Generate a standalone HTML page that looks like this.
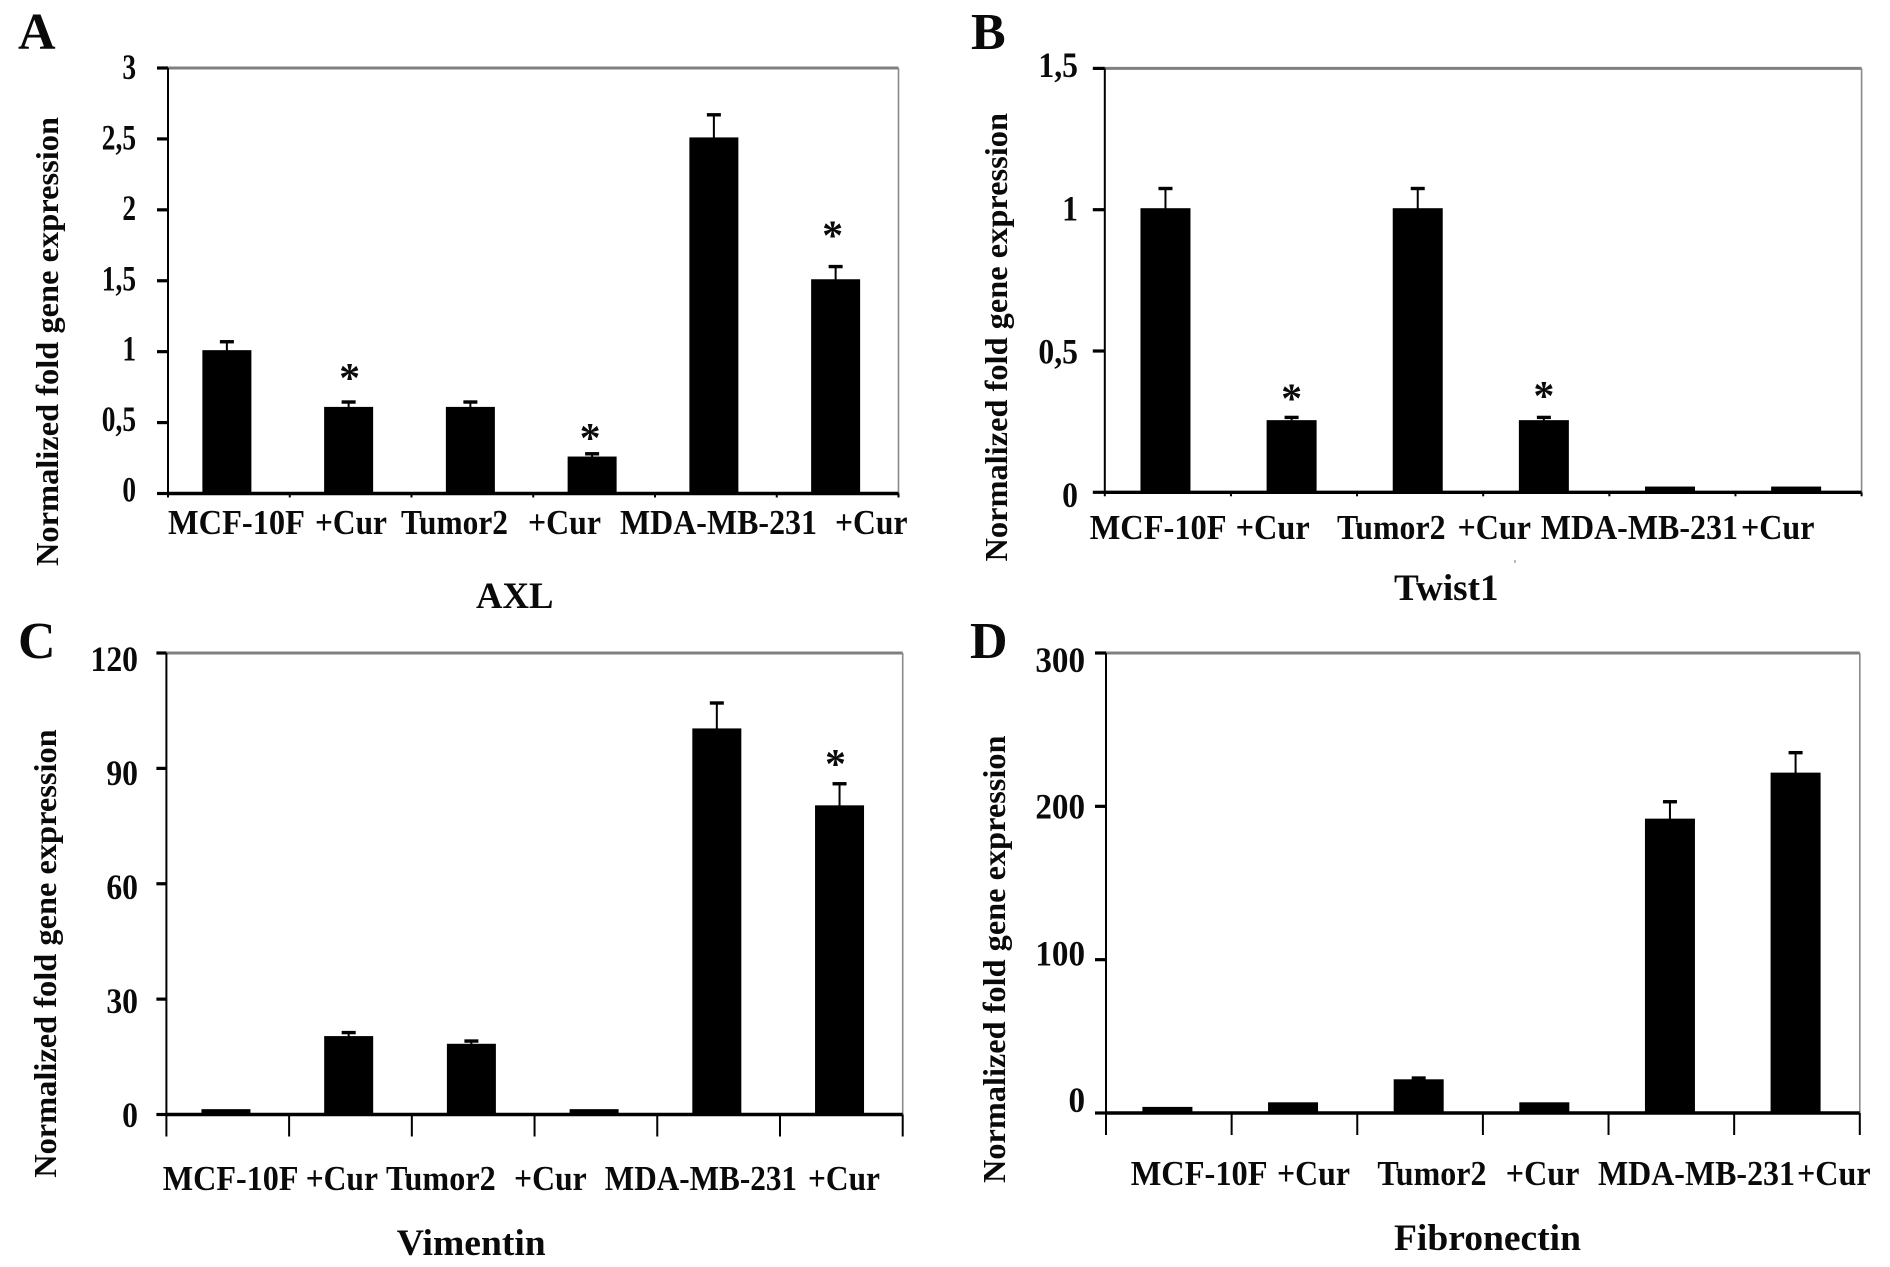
<!DOCTYPE html>
<html lang="en">
<head>
<meta charset="utf-8">
<title>Normalized fold gene expression: AXL, Twist1, Vimentin, Fibronectin</title>
<style>
html,body{margin:0;padding:0;background:#fff;width:1890px;height:1267px;overflow:hidden}
svg{display:block;filter:blur(0.35px)}
text{font-family:"Liberation Serif","Times New Roman",serif;font-weight:bold;fill:#0a0a0a}
</style>
</head>
<body>
<svg id="figure" xmlns="http://www.w3.org/2000/svg" width="1890" height="1267" viewBox="0 0 1890 1267">
  <rect x="0" y="0" width="1890" height="1267" fill="#fff"/>
  <rect x="1514" y="560" width="2" height="3" fill="#bbb"/>
</svg>
<script>
// ---- Panel A: AXL ----
const categoriesA = ["MCF-10F", "+Cur", "Tumor2", "+Cur", "MDA-MB-231", "+Cur"];
const valuesA = [1, 0.6, 0.6, 0.25, 2.5, 1.5];
const errorTopsA = [1.07, 0.645, 0.645, 0.28, 2.67, 1.6];
const significantA = [false, true, false, true, false, true];
const tickValuesA = [0, 0.5, 1, 1.5, 2, 2.5, 3];
const tickLabelsA = ["0", "0,5", "1", "1,5", "2", "2,5", "3"];

// ---- Panel B: Twist1 ----
const categoriesB = ["MCF-10F", "+Cur", "Tumor2", "+Cur", "MDA-MB-231", "+Cur"];
const valuesB = [1, 0.25, 1, 0.25, 0.015, 0.015];
const errorTopsB = [1.075, 0.265, 1.075, 0.265, null, null];
const significantB = [false, true, false, true, false, false];
const tickValuesB = [0, 0.5, 1, 1.5];
const tickLabelsB = ["0", "0,5", "1", "1,5"];

// ---- Panel C: Vimentin ----
const categoriesC = ["MCF-10F", "+Cur", "Tumor2", "+Cur", "MDA-MB-231", "+Cur"];
const valuesC = [1, 20, 18, 1, 100, 80];
const errorTopsC = [null, 21.3, 19.1, null, 107, 86];
const significantC = [false, false, false, false, false, true];
const tickValuesC = [0, 30, 60, 90, 120];
const tickLabelsC = ["0", "30", "60", "90", "120"];

// ---- Panel D: Fibronectin ----
const categoriesD = ["MCF-10F", "+Cur", "Tumor2", "+Cur", "MDA-MB-231", "+Cur"];
const valuesD = [3, 6, 21, 6, 191, 221];
const errorTopsD = [null, null, 22.8, null, 203, 235];
const significantD = [false, false, false, false, false, false];
const tickValuesD = [0, 100, 200, 300];
const tickLabelsD = ["0", "100", "200", "300"];

const NS = "http://www.w3.org/2000/svg";
const figure = document.getElementById("figure");
const BAR_OUTLINE = 1.5;

function mk(tag, attrs, parent) {
  const el = document.createElementNS(NS, tag);
  for (const k in attrs) el.setAttribute(k, attrs[k]);
  parent.appendChild(el);
  return el;
}

function drawPanel(p) {
  const g = mk("g", {}, figure);
  
  

  const n = p.categories.length;
  const band = (p.right - p.left) / n;
  const xBand = i => p.left + band * i;
  const xCenter = i => xBand(i) + band / 2 + p.barDx;
  const y = v => p.base - (v / p.yMax) * (p.base - p.top);
  const yLabel = v => p.labelBase - (v / p.yMax) * (p.labelBase - p.labelTop);

  // panel letter
  const letter = mk("text", {x: p.letterX, y: p.letterY, "font-size": 52}, g);
  
  
  letter.textContent = p.id;

  // plot frame: top and right are grey
  const topLine = mk("line", {x1: p.left, x2: p.right, y1: p.top, y2: p.top, stroke: "#808080", "stroke-width": 3}, g);
  
  
  const rightLine = mk("line", {x1: p.right, x2: p.right, y1: p.top, y2: p.base, stroke: "#8a8a8a", "stroke-width": 1.6}, g);
  
  

  // bars and error bars
  p.values.forEach((v, i) => {
    const cx = xCenter(i);
    const barTop = y(v) - BAR_OUTLINE;
    const bar = mk("rect", {x: cx - p.barW / 2, y: barTop, width: p.barW, height: p.base - barTop, fill: "#000"}, g);
    
    
    const top = p.errorTops[i];
    if (top !== null) {
      const stem = mk("line", {x1: cx, x2: cx, y1: y(v), y2: y(top), stroke: "#000", "stroke-width": 2}, g);
      
      
      const cap = mk("line", {x1: cx - 7, x2: cx + 7, y1: y(top), y2: y(top), stroke: "#000", "stroke-width": 3.4}, g);
      
      
    }
    if (p.significant[i]) {
      const anchorY = y(top !== null ? top : v);
      const star = mk("text", {x: cx + p.starDx[i], y: anchorY - p.starGap[i] + 18, "font-size": 42, "text-anchor": "middle"}, g);
      
      
      star.textContent = "*";
    }
  });

  // axes
  const yAxis = mk("line", {x1: p.left, x2: p.left, y1: p.top, y2: p.base, stroke: "#000", "stroke-width": 2}, g);
  
  
  const xAxis = mk("line", {x1: p.left, x2: p.right, y1: p.base, y2: p.base, stroke: "#000", "stroke-width": 3.4}, g);
  
  

  // y ticks
  p.tickValues.forEach((t, i) => {
    const tick = mk("line", {x1: p.left - p.yTickLen, x2: p.left, y1: y(t), y2: y(t), stroke: "#000", "stroke-width": 3.2}, g);
    
    
    const ly = yLabel(t) + 12;
    const lab = mk("text", {
      transform: "translate(" + p.labelRight + "," + ly + ") scale(" + p.labelScale + ",1)",
      "font-size": 36, "text-anchor": "end"
    }, g);
    
    
    lab.textContent = p.tickLabels[i];
  });

  // x ticks
  for (let i = 0; i <= n; i++) {
    const tick = mk("line", {x1: xBand(i), x2: xBand(i), y1: p.base, y2: p.base + p.xTickLen, stroke: "#000", "stroke-width": 2}, g);
    
    
  }

  // x category labels: hand-placed text boxes in the original figure
  p.categories.forEach((c, i) => {
    const span = p.labelSpans[i];
    const lab = mk("text", {
      x: span[0], y: p.catBaseline, "font-size": 35,
      textLength: span[1] - span[0], lengthAdjust: "spacingAndGlyphs"
    }, g);
    
    
    lab.textContent = c;
  });

  // y title
  const yt = mk("text", {
    transform: "translate(" + p.yTitleX + "," + p.yTitleBottom + ") rotate(-90)",
    "font-size": 32, textLength: p.yTitleBottom - p.yTitleTop, lengthAdjust: "spacingAndGlyphs"
  }, g);
  
  
  yt.textContent = "Normalized fold gene expression";

  // gene title
  const title = mk("text", {
    x: p.titleSpan[0], y: p.titleBaseline, "font-size": 37,
    textLength: p.titleSpan[1] - p.titleSpan[0], lengthAdjust: "spacingAndGlyphs"
  }, g);
  
  
  title.textContent = p.title;
}

drawPanel({
  id: "A", title: "AXL",
  categories: categoriesA, values: valuesA, errorTops: errorTopsA, significant: significantA,
  tickValues: tickValuesA, tickLabels: tickLabelsA, yMax: 3,
  left: 168, right: 898.5, top: 68, base: 493.5, barW: 49, barDx: -2,
  yTickLen: 11, xTickLen: 4,
  labelRight: 136, labelScale: 0.76, labelTop: 67, labelBase: 489.5,
  letterX: 18, letterY: 49,
  starGap: [0, 28, 0, 20, 0, 35], starDx: [0, 1, 0, -2, 0, -3],
  labelSpans: [[168, 305], [315, 387], [401, 508], [528, 601], [620, 817], [835, 907.5]],
  catBaseline: 534,
  yTitleX: 58, yTitleTop: 117, yTitleBottom: 566,
  titleSpan: [476, 553.5], titleBaseline: 608
});

drawPanel({
  id: "B", title: "Twist1",
  categories: categoriesB, values: valuesB, errorTops: errorTopsB, significant: significantB,
  tickValues: tickValuesB, tickLabels: tickLabelsB, yMax: 1.5,
  left: 1104.8, right: 1861.6, top: 68.4, base: 492.3, barW: 50, barDx: -2.4,
  yTickLen: 12, xTickLen: 4,
  labelRight: 1078, labelScale: 0.88, labelTop: 65, labelBase: 495,
  letterX: 971, letterY: 49,
  starGap: [0, 23, 0, 25.5, 0, 0], starDx: [0, 0, 0, 0, 0, 0],
  labelSpans: [[1089.7, 1226.6], [1235.6, 1309.8], [1337, 1445.5], [1457.5, 1531], [1540.8, 1738], [1741, 1814.5]],
  catBaseline: 539,
  yTitleX: 1007, yTitleTop: 113, yTitleBottom: 561.5,
  titleSpan: [1394, 1498.6], titleBaseline: 600
});

drawPanel({
  id: "C", title: "Vimentin",
  categories: categoriesC, values: valuesC, errorTops: errorTopsC, significant: significantC,
  tickValues: tickValuesC, tickLabels: tickLabelsC, yMax: 120,
  left: 166.4, right: 902.7, top: 653, base: 1114.5, barW: 49, barDx: -1.8,
  yTickLen: 10, xTickLen: 22,
  labelRight: 138, labelScale: 0.88, labelTop: 659, labelBase: 1115,
  letterX: 18, letterY: 658,
  starGap: [0, 0, 0, 0, 0, 24], starDx: [0, 0, 0, 0, 0, -4],
  labelSpans: [[162.8, 298.5], [305.7, 378], [386, 495.7], [514, 586.7], [604.8, 797], [808, 880]],
  catBaseline: 1190,
  yTitleX: 56, yTitleTop: 729.3, yTitleBottom: 1177.8,
  titleSpan: [396.8, 545.7], titleBaseline: 1255
});

drawPanel({
  id: "D", title: "Fibronectin",
  categories: categoriesD, values: valuesD, errorTops: errorTopsD, significant: significantD,
  tickValues: tickValuesD, tickLabels: tickLabelsD, yMax: 300,
  left: 1106, right: 1859.8, top: 653, base: 1113, barW: 50, barDx: -1.4,
  yTickLen: 11, xTickLen: 22,
  labelRight: 1085, labelScale: 0.92, labelTop: 660, labelBase: 1100,
  letterX: 970, letterY: 658,
  starGap: [0, 0, 0, 0, 0, 0], starDx: [0, 0, 0, 0, 0, 0],
  labelSpans: [[1130.7, 1267.6], [1277, 1350], [1377.4, 1486.5], [1505.8, 1579.4], [1598, 1795], [1797, 1870.6]],
  catBaseline: 1185,
  yTitleX: 1005, yTitleTop: 735.5, yTitleBottom: 1183,
  titleSpan: [1394, 1581], titleBaseline: 1250
});
</script>
</body>
</html>
